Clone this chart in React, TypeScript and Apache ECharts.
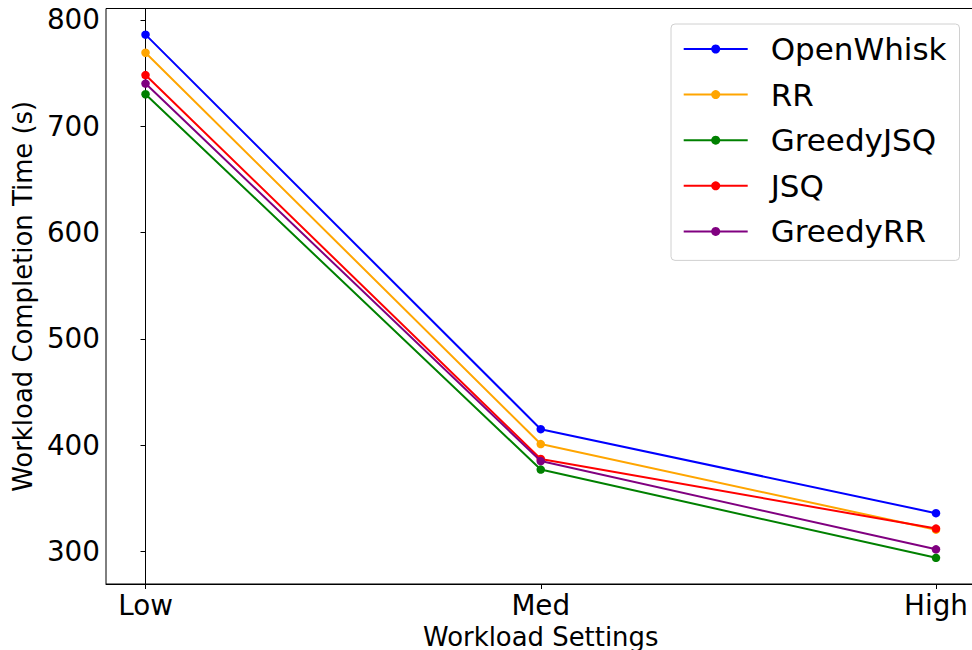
import React, { useEffect, useRef } from "react";
import * as echarts from "echarts";

const categories = ["Low", "Med", "High"];
const seriesNames = ["OpenWhisk", "RR", "GreedyJSQ", "JSQ", "GreedyRR"];
const openWhisk = [786, 415, 336];
const rr = [769, 401, 320.5];
const greedyJSQ = [730, 377, 294];
const jsq = [748, 387, 321.5];
const greedyRR = [740, 385, 302];
const yTicks = [300, 400, 500, 600, 700, 800];
const colors = ["#0000ff", "#ffa500", "#008000", "#ff0000", "#800080"];

const FONT = "DejaVu Sans";

export default function App() {
  const ref = useRef<HTMLDivElement>(null);
  useEffect(() => {
    if (!ref.current) return;
    const chart = echarts.init(ref.current, null, { renderer: "svg" });
    const allValues = [openWhisk, rr, greedyJSQ, jsq, greedyRR];
    const flat = allValues.flat();
    const dMin = Math.min(...flat);
    const dMax = Math.max(...flat);
    const pad = (dMax - dMin) * 0.05;
    chart.setOption({
      animation: false,
      grid: {
        left: 106,
        top: 8.5,
        width: 869.5,
        height: 575.5,
        show: true,
        borderColor: "#000",
        borderWidth: 1,
        backgroundColor: "transparent",
        containLabel: false,
        outerBoundsMode: "none",
      },
      xAxis: {
        type: "value",
        min: -0.1,
        max: 2.1,
        name: "Workload Settings",
        nameLocation: "middle",
        nameGap: 35,
        nameTextStyle: { fontFamily: FONT, fontSize: 25.9, color: "#000" },
        axisLine: { show: true, lineStyle: { color: "#000", width: 1 } },
        axisTick: {
          show: true,
          length: 5,
          customValues: [0, 1, 2],
          lineStyle: { color: "#000", width: 1 },
        },
        axisLabel: {
          customValues: [0, 1, 2],
          formatter: (v: number) => categories[Math.round(v)] ?? "",
          fontFamily: FONT,
          fontSize: 27.8,
          color: "#000",
          margin: 7,
        },
        splitLine: { show: false },
      },
      yAxis: {
        type: "value",
        min: dMin - pad,
        max: dMax + pad,
        name: "Workload Completion Time (s)",
        nameLocation: "middle",
        nameGap: 70,
        nameRotate: 90,
        nameTextStyle: { fontFamily: FONT, fontSize: 25.9, color: "#000" },
        axisLine: { show: true, lineStyle: { color: "#000", width: 1 } },
        axisTick: {
          show: true,
          length: 5,
          customValues: yTicks,
          lineStyle: { color: "#000", width: 1 },
        },
        axisLabel: {
          customValues: yTicks,
          fontFamily: FONT,
          fontSize: 27.8,
          color: "#000",
          margin: 6,
        },
        splitLine: { show: false },
      },
      legend: {
        orient: "vertical",
        left: 671,
        top: 24,
        data: seriesNames,
        itemWidth: 64,
        itemHeight: 11.25,
        itemGap: 9.6,
        padding: [7, 13, 11, 11.7],
        borderColor: "#d0d0d0",
        borderWidth: 1,
        borderRadius: 4,
        backgroundColor: "rgba(255,255,255,0.8)",
        textStyle: {
          fontFamily: FONT,
          fontSize: 31,
          color: "#000",
          lineHeight: 36,
          padding: [0, 0, 0, 18],
        },
      },
      series: seriesNames.map((name, i) => ({
        name,
        type: "line",
        data: allValues[i].map((v, j) => [j, v]),
        symbol: "circle",
        symbolSize: 8.5,
        showSymbol: true,
        color: colors[i],
        lineStyle: { color: colors[i], width: 2 },
        itemStyle: { color: colors[i] },
        emphasis: { disabled: true },
        z: 2 + i,
      })),
    });
    return () => chart.dispose();
  }, []);
  return <div ref={ref} style={{ width: 972, height: 650, position: "absolute", left: 0, top: 0 }} />;
}
